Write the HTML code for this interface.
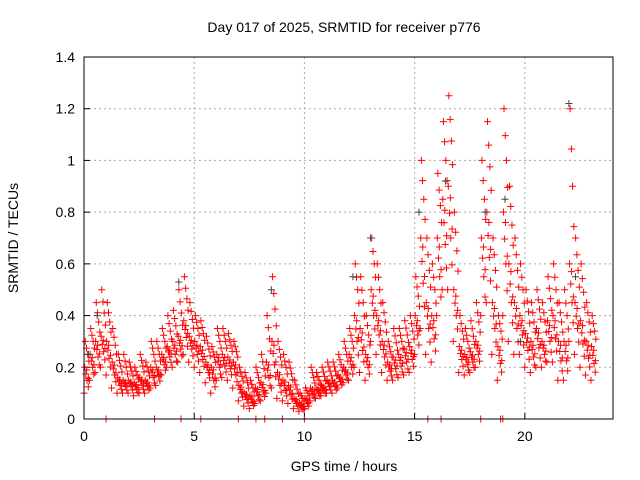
<!DOCTYPE html>
<html><head><meta charset="utf-8"><style>
body{margin:0;background:#fff;}
svg{display:block;font-family:"Liberation Sans",sans-serif;}
</style></head><body>
<svg id="chart" width="640" height="480">
<rect width="640" height="480" fill="#fff"/>
<text x="344" y="32" font-size="14" text-anchor="middle">Day 017 of 2025, SRMTID for receiver p776</text>
<text x="344" y="471" font-size="14" text-anchor="middle">GPS time / hours</text>
<text transform="translate(18,238) rotate(-90)" font-size="14" text-anchor="middle">SRMTID / TECUs</text>
<g id="grid"></g><g id="ticks"></g><g id="marks"></g>
<rect x="84" y="57" width="529" height="362" fill="none" stroke="#000" stroke-width="1"/>
</svg>
<script>
const times=[0,0.25,0.5,0.75,1,1.25,1.5,1.75,2,2.25,2.5,2.75,3,3.25,3.5,3.75,4,4.25,4.5,4.75,5,5.25,5.5,5.75,6,6.25,6.5,6.75,7,7.25,7.5,7.75,8,8.25,8.5,8.75,9,9.25,9.5,9.75,10,10.25,10.5,10.75,11,11.25,11.5,11.75,12,12.25,12.5,12.75,13,13.25,13.5,13.75,14,14.25,14.5,14.75,15,15.25,15.5,15.75,16,16.25,16.5,16.75,17,17.25,17.5,17.75,18,18.25,18.5,18.75,19,19.25,19.5,19.75,20,20.25,20.5,20.75,21,21.25,21.5,21.75,22,22.25,22.5,22.75,23];
const hiVals=[0.3,0.35,0.45,0.5,0.45,0.35,0.25,0.25,0.22,0.2,0.25,0.22,0.3,0.3,0.35,0.4,0.42,0.5,0.55,0.45,0.4,0.38,0.32,0.28,0.35,0.35,0.33,0.3,0.2,0.18,0.15,0.2,0.25,0.4,0.55,0.3,0.25,0.22,0.15,0.1,0.12,0.2,0.18,0.2,0.22,0.22,0.25,0.3,0.35,0.6,0.55,0.4,0.7,0.6,0.45,0.3,0.35,0.35,0.38,0.4,0.55,1.0,0.7,0.6,0.95,1.15,1.25,0.8,0.4,0.35,0.38,0.45,1.0,1.15,0.7,0.4,1.2,0.9,0.7,0.6,0.5,0.45,0.5,0.45,0.55,0.6,0.45,0.5,1.2,0.7,0.6,0.45,0.4];
const midVals=[0.2,0.25,0.3,0.32,0.3,0.22,0.16,0.15,0.15,0.14,0.16,0.15,0.2,0.2,0.25,0.28,0.3,0.32,0.38,0.32,0.3,0.28,0.22,0.2,0.25,0.25,0.24,0.22,0.13,0.1,0.09,0.12,0.14,0.22,0.3,0.18,0.15,0.13,0.08,0.06,0.08,0.12,0.12,0.13,0.15,0.15,0.17,0.2,0.25,0.4,0.35,0.25,0.5,0.4,0.3,0.22,0.24,0.25,0.27,0.28,0.4,0.7,0.45,0.4,0.7,0.85,0.9,0.5,0.28,0.25,0.26,0.3,0.7,0.8,0.45,0.28,0.8,0.6,0.45,0.4,0.33,0.3,0.35,0.3,0.38,0.4,0.3,0.3,0.6,0.45,0.38,0.3,0.28];
const loVals=[0.1,0.15,0.18,0.2,0.17,0.12,0.1,0.1,0.1,0.09,0.1,0.1,0.12,0.13,0.17,0.2,0.2,0.22,0.25,0.22,0.2,0.18,0.14,0.1,0.15,0.16,0.15,0.12,0.07,0.05,0.04,0.06,0.07,0.1,0.12,0.08,0.07,0.06,0.04,0.03,0.04,0.07,0.08,0.09,0.1,0.1,0.12,0.14,0.15,0.2,0.18,0.15,0.3,0.25,0.18,0.15,0.15,0.16,0.17,0.18,0.25,0.35,0.25,0.22,0.4,0.5,0.5,0.3,0.18,0.17,0.18,0.2,0.4,0.45,0.25,0.15,0.4,0.3,0.25,0.25,0.2,0.18,0.2,0.2,0.22,0.22,0.15,0.15,0.3,0.25,0.2,0.17,0.15];
const zeroTimes=[1,3.2,4.4,5.3,7,7.8,8.2,9,10,15.6,16.2,18,18.9,19];
const darkTimes=[0.2,0.6,4.3,8.5,12.2,13,15.2,16.4,18.2,19.1,22,22.3,19.8];
const darkVals=[0.25,0.4,0.53,0.5,0.55,0.7,0.8,0.92,0.8,0.85,1.22,0.55,0.3];
const xTicks=[0,5,10,15,20];
const yTicks=[0,0.2,0.4,0.6,0.8,1,1.2,1.4];
const yLabels=["0","0.2","0.4","0.6","0.8","1","1.2","1.4"];

const X0=84,X1=613,Y0=419,Y1=57;
const xs=t=>X0+t*(X1-X0)/24;
const ys=v=>Y0-v*(Y0-Y1)/1.4;
const NS="http://www.w3.org/2000/svg";
function mk(tag,attrs,parent){const e=document.createElementNS(NS,tag);for(const k in attrs)e.setAttribute(k,attrs[k]);parent.appendChild(e);return e;}
const grid=document.getElementById('grid'),ticks=document.getElementById('ticks'),marks=document.getElementById('marks');
xTicks.forEach(t=>{
  const x=xs(t);
  if(t>0){const g=mk('line',{x1:x,x2:x,y1:Y0,y2:Y1,stroke:'#aaa','stroke-dasharray':'2,3'},grid);
  
  }
  const l=mk('text',{x:x,y:Y0+22,'font-size':14,'text-anchor':'middle'},ticks);l.textContent=t;
  
  
  mk('line',{x1:x,x2:x,y1:Y0,y2:Y0-6,stroke:'#000'},ticks);
});
yTicks.forEach((v,i)=>{
  const y=ys(v);
  if(v>0&&v<1.4){const g=mk('line',{x1:X0,x2:X1,y1:y,y2:y,stroke:'#aaa','stroke-dasharray':'2,3'},grid);
  
  }
  const l=mk('text',{x:X0-9,y:y+5,'font-size':14,'text-anchor':'end'},ticks);l.textContent=yLabels[i];
  
  
  mk('line',{x1:X0,x2:X0+6,y1:y,y2:y,stroke:'#000'},ticks);
});
function plus(t,v,color,name){
  const x=xs(t),y=ys(v);
  const p=mk('path',{d:`M${x-3.5},${y}H${x+3.5}M${x},${y-3.5}V${y+3.5}`,stroke:color,'stroke-width':1,fill:'none'},marks);
  
  
}
const fracs=[0,0.12,0.25,0.37,0.5,0.62,0.75,0.87,1];
times.forEach((t,i)=>{
  fracs.forEach((f,k)=>{
    const off=((k*7)%9)/9*0.25;
    const v=f<0.5?loVals[i]+(midVals[i]-loVals[i])*f*2:midVals[i]+(hiVals[i]-midVals[i])*(f-0.5)*2;
    plus(t+off,v,'#f00','point');
  });
  plus(t+0.12,midVals[i]*0.95,'#f00','point');
  plus(t+0.2,(loVals[i]+midVals[i])/2*1.05,'#f00','point');
});
darkTimes.forEach((t,i)=>plus(t,darkVals[i],'#444','point-dark'));
zeroTimes.forEach(t=>plus(t,0,'#f00','point-zero'));
</script>
</body></html>
